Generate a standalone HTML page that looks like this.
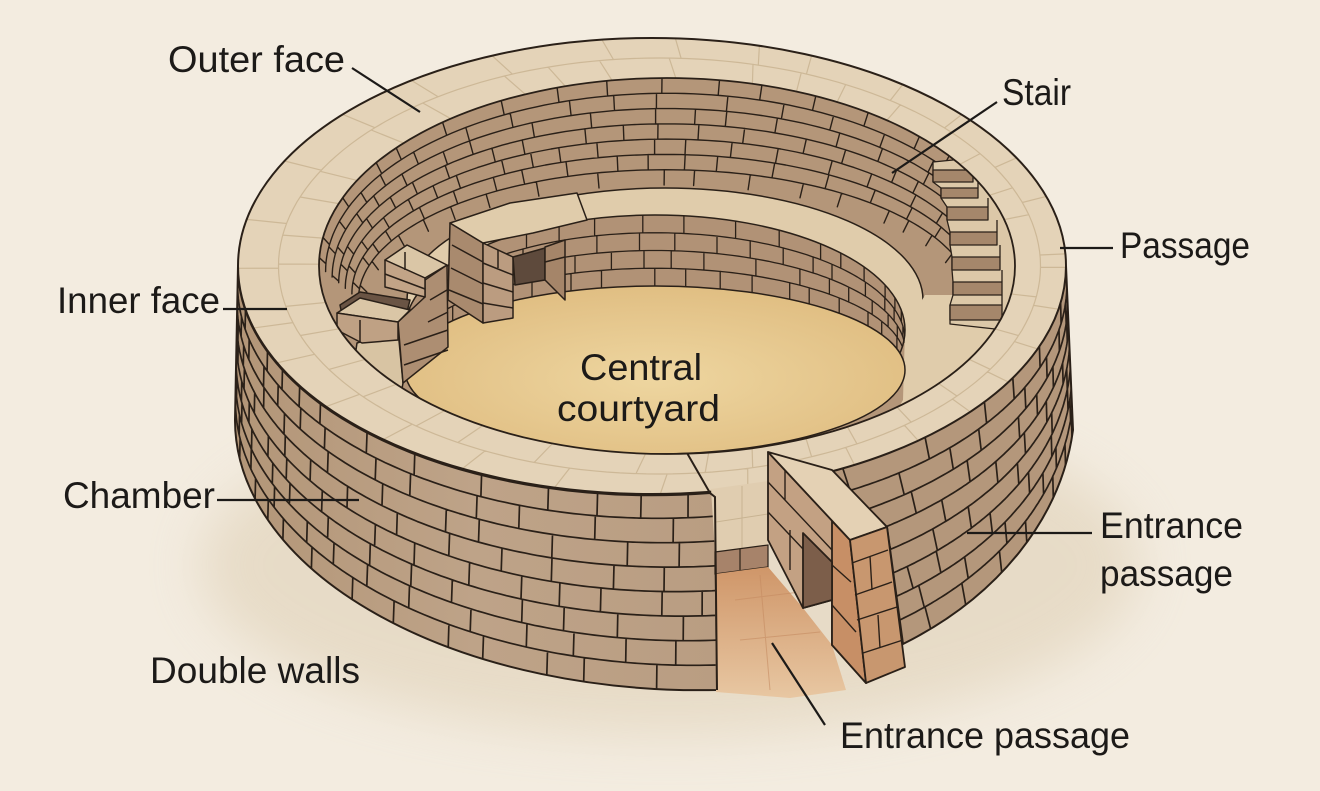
<!DOCTYPE html>
<html><head><meta charset="utf-8"><title>Broch diagram</title>
<style>
html,body{margin:0;padding:0;background:#f3ece0;width:1320px;height:791px;overflow:hidden}
svg{display:block}
text{font-family:"Liberation Sans",Arial,sans-serif;font-size:37px;fill:#1c1a18}
</style></head><body>
<svg id="s" xmlns="http://www.w3.org/2000/svg" width="1320" height="791" viewBox="0 0 1320 791">
<defs>
<filter id="bl" x="-30%" y="-60%" width="160%" height="220%"><feGaussianBlur stdDeviation="26"/></filter>
<radialGradient id="fl" cx="0.5" cy="0.55" r="0.6"><stop offset="0" stop-color="#eed6a0"/><stop offset="1" stop-color="#dfbc80"/></radialGradient>
<linearGradient id="og" x1="0" y1="0" x2="0" y2="1"><stop offset="0" stop-color="#cf9669"/><stop offset="1" stop-color="#e8c7a2"/></linearGradient>
<linearGradient id="lw" x1="0" y1="0" x2="1" y2="0"><stop offset="0" stop-color="#b39678"/><stop offset="0.5" stop-color="#bea388"/><stop offset="1" stop-color="#b99d82"/></linearGradient>
<clipPath id="cL"><path d="M238,266 A414,228 0 0 0 710,493 L715,497 L717,690 A465,270 0 0 1 235,420 Z"/></clipPath>
<clipPath id="cR"><path d="M830,470 A414,228 0 0 0 1066,266 L1073,430 A375,290 0 0 1 903,644 L887,527 Z"/></clipPath>
<clipPath id="cI"><ellipse cx="667" cy="266" rx="348" ry="188"/></clipPath>
<clipPath id="cE4"><ellipse cx="655" cy="330" rx="250" ry="115"/></clipPath>
<clipPath id="cRing"><path clip-rule="evenodd" d="M238,266 A414,228 0 1 0 1066,266 A414,228 0 1 0 238,266 Z M319,266 A348,188 0 1 0 1015,266 A348,188 0 1 0 319,266 Z"/></clipPath>
</defs>

<rect width="1320" height="791" fill="#f3ece0"/>
<ellipse cx="670" cy="565" rx="470" ry="170" fill="#d6c3a2" opacity="0.4" filter="url(#bl)"/>

<!-- left outer wall -->
<path d="M238,266 A414,228 0 0 0 710,493 L715,497 L717,690 A465,270 0 0 1 235,420 Z" fill="url(#lw)"/>
<g id="gL" clip-path="url(#cL)"></g>
<path d="M238,266 A414,228 0 0 0 710,493 L715,497 L717,690 A465,270 0 0 1 235,420 Z" fill="none" stroke="#2a2018" stroke-width="2"/>

<!-- right outer wall -->
<path d="M830,470 A414,228 0 0 0 1066,266 L1073,430 A375,290 0 0 1 903,644 L887,527 Z" fill="#b4977b"/>
<g id="gR" clip-path="url(#cR)"></g>
<path d="M830,470 A414,228 0 0 0 1066,266 L1073,430 A375,290 0 0 1 903,644 L887,527 Z" fill="none" stroke="#2a2018" stroke-width="2"/>

<!-- interior -->
<g clip-path="url(#cI)">
 <rect x="300" y="60" width="740" height="420" fill="#b49679"/>
 <g id="gIn"></g>
 <ellipse cx="665" cy="300" rx="258" ry="112" fill="#e0ccab" stroke="#2a2018" stroke-width="1.5"/>
 <polygon points="905,330 925,295 1030,295 1030,440 880,440 903,400" fill="#e0ccab"/>
 <ellipse cx="655" cy="330" rx="250" ry="115" fill="#b19276" stroke="#2a2018" stroke-width="1.5"/>
 <g id="gE4" clip-path="url(#cE4)"></g>
 <ellipse cx="655" cy="370" rx="250" ry="84" fill="url(#fl)" stroke="#2a2018" stroke-width="1.5"/>

 <!-- chambers -->
 <g stroke="#2a2018" stroke-width="1.5" stroke-linejoin="round">
  <polygon points="340,305 360,292 410,300 405,320 345,330" fill="#6a5444"/>
  <polygon points="357,343 398,330 403,383 400,400 350,390" fill="#d8c4a3"/>
  <polygon points="425,280 447,265 448,347 403,383 398,322 425,297" fill="#ad8e72"/>
  <polygon points="385,260 407,245 447,265 425,278" fill="#dac6a6"/>
  <polygon points="385,260 425,278 425,297 385,287" fill="#c2a487"/>
  <polygon points="337,313 360,298 410,310 398,322" fill="#dac6a6"/>
  <polygon points="337,313 398,322 398,340 362,343 337,330" fill="#bfa184"/>
  <polygon points="450,223 483,243 483,323 448,300" fill="#a98a6e"/>
  <polygon points="450,223 510,203 577,193 587,220 533,233 483,243" fill="#e0ccab"/>
  <polygon points="483,243 513,257 513,318 483,323" fill="#bb9c80"/>
  <polygon points="513,257 545,248 545,280 515,285" fill="#5e4a3c"/>
  <polygon points="545,247 565,240 565,300 545,280" fill="#a58569"/>
  <path fill="none" d="M483,263 L513,275 M483,283 L513,292 M483,303 L513,308 M452,245 L483,262 M451,268 L483,284 M449,290 L483,304 M498,250 L498,268 M385,274 L425,289 M405,252 L405,270 M430,300 L447,290 M428,322 L448,312 M404,345 L448,330 M404,365 L448,350 M545,262 L565,257 M360,320 L360,342"/>
 </g>

 <!-- stairs -->
 <g stroke="#2a2018" stroke-width="1.3" stroke-linejoin="round">
  <polygon points="933,162 973,158 996,168 1016,225 1016,290 1004,330 950,324 950,305 953,295 953,282 952,270 952,257 950,245 950,232 947,220 947,207 941,198 941,188 933,182" fill="#dcc8a8"/>
  <polygon points="933,170 973,170 973,182 933,182" fill="#a5876b"/>
  <polygon points="941,188 978,188 978,198 941,198" fill="#a5876b"/>
  <polygon points="947,207 988,207 988,220 947,220" fill="#a5876b"/>
  <polygon points="950,232 997,232 997,245 950,245" fill="#a5876b"/>
  <polygon points="952,257 1000,257 1000,270 952,270" fill="#a5876b"/>
  <polygon points="953,282 1002,282 1002,295 953,295" fill="#a5876b"/>
  <polygon points="950,305 1002,305 1002,320 950,320" fill="#a5876b"/>
  <path fill="none" d="M973,158 L973,170 M978,182 L978,188 M988,198 L988,207 M997,220 L997,232 M1000,245 L1000,257 M1002,270 L1002,282 M1002,295 L1002,305"/>
 </g>
</g>

<!-- top ring -->
<path fill-rule="evenodd" fill="#e4d3b8" d="M238,266 A414,228 0 1 0 1066,266 A414,228 0 1 0 238,266 Z M319,266 A348,188 0 1 0 1015,266 A348,188 0 1 0 319,266 Z"/>
<g id="gRing" clip-path="url(#cRing)"></g>
<ellipse cx="652" cy="266" rx="414" ry="228" fill="none" stroke="#2a2018" stroke-width="2"/>
<ellipse cx="667" cy="266" rx="348" ry="188" fill="none" stroke="#2a2018" stroke-width="1.8"/>

<!-- entrance gap -->
<polygon points="711,489 768,481 768,545 715,552" fill="#e0cdb0"/>
<path d="M716,522 L768,514 M742,486 L742,548" stroke="#c8b392" stroke-width="1" fill="none"/>
<polygon points="715,552 768,545 768,567 715,574" fill="#a7836a" stroke="#2a2018" stroke-width="1.2"/>
<path d="M740,549 L740,570" stroke="#2a2018" stroke-width="1.2"/>
<polygon points="715,574 768,567 803,608 832,645 846,690 790,698 716,692" fill="url(#og)"/>
<path d="M735,600 L800,592 M740,640 L820,632 M760,575 L770,690" stroke="#c48b60" stroke-width="1" fill="none" opacity="0.6"/>
<path d="M687,453 L710,493 L715,497 L717,690" fill="none" stroke="#2a2018" stroke-width="2"/>

<!-- entrance block -->
<g stroke="#2a2018" stroke-width="1.8" stroke-linejoin="round">
 <polygon points="768,452 850,540 866,683 832,645 832,600 803,608 768,540" fill="#c3a183"/>
 <polygon points="832,521 850,540 866,683 832,645" fill="#c78f66"/>
 <polygon points="803,533 832,562 832,600 803,608" fill="#7c5e4a"/>
 <polygon points="768,452 832,470 887,527 850,540" fill="#e4d1b4"/>
 <polygon points="850,540 887,527 905,667 866,683" fill="#c8976f"/>
 <path fill="none" stroke-width="1.4" d="M768,482 L832,550 M768,512 L803,549 M785,470 L785,500 M790,530 L790,570 M852,563 L888,550 M855,595 L892,582 M857,620 L897,607 M863,653 L903,640 M870,556 L872,590 M878,615 L880,648 M832,565 L851,582 M832,605 L856,632"/>
</g>

<!-- leader lines -->
<g stroke="#1c1a18" stroke-width="2.2" fill="none">
 <path d="M352,68 L420,112"/>
 <path d="M997,102 L892,173"/>
 <path d="M1060,248 L1113,248"/>
 <path d="M223,309 L287,309"/>
 <path d="M217,500 L359,500"/>
 <path d="M967,533 L1092,533"/>
 <path d="M772,643 L825,725"/>
</g>

<!-- labels -->
<text x="168" y="72" textLength="177" lengthAdjust="spacingAndGlyphs">Outer face</text>
<text x="1002" y="105" textLength="69" lengthAdjust="spacingAndGlyphs">Stair</text>
<text x="1120" y="258" textLength="130" lengthAdjust="spacingAndGlyphs">Passage</text>
<text x="57" y="313" textLength="163" lengthAdjust="spacingAndGlyphs">Inner face</text>
<text x="580" y="380" textLength="122" lengthAdjust="spacingAndGlyphs">Central</text>
<text x="557" y="421" textLength="163" lengthAdjust="spacingAndGlyphs">courtyard</text>
<text x="63" y="508" textLength="152" lengthAdjust="spacingAndGlyphs">Chamber</text>
<text x="1100" y="538" textLength="143" lengthAdjust="spacingAndGlyphs">Entrance</text>
<text x="1100" y="586" textLength="133" lengthAdjust="spacingAndGlyphs">passage</text>
<text x="150" y="683" textLength="210" lengthAdjust="spacingAndGlyphs">Double walls</text>
<text x="840" y="748" textLength="290" lengthAdjust="spacingAndGlyphs">Entrance passage</text>
</svg>
<script>
(function(){
var NS='http://www.w3.org/2000/svg';
var seed=12345;function rnd(){seed=(seed*16807)%2147483647;return (seed-1)/2147483646;}
function ell(cx,cy,rx,ry){return function(d){var a=d*Math.PI/180;return [cx+rx*Math.cos(a),cy+ry*Math.sin(a)];};}
function lerp(p,q,s){return [p[0]+(q[0]-p[0])*s,p[1]+(q[1]-p[1])*s];}
function f(p){return p[0].toFixed(1)+','+p[1].toFixed(1);}
function add(id,d,stroke,w,op){var g=document.getElementById(id);var e=document.createElementNS(NS,'path');e.setAttribute('d',d);e.setAttribute('fill','none');e.setAttribute('stroke',stroke);e.setAttribute('stroke-width',w);e.setAttribute('stroke-linecap','round');e.setAttribute('stroke-linejoin','round');if(op)e.setAttribute('opacity',op);g.appendChild(e);}
function bricks(id,T,B,t0,t1,b0,b1,courses,step,w){
 var N=120,d='',k,i;
 function pt(u,s){return lerp(T(t0+(t1-t0)*u),B(b0+(b1-b0)*u),s);}
 for(k=1;k<courses;k++){var s=k/courses;for(i=0;i<=N;i++){d+=(i?'L':'M')+f(pt(i/N,s));}}
 var du=step/Math.abs(t1-t0);
 for(k=0;k<courses;k++){var s0=k/courses,s1=(k+1)/courses,u=rnd()*du;while(u<1){d+='M'+f(pt(u,s0))+'L'+f(pt(u,s1));u+=du*(0.6+0.8*rnd());}}
 add(id,d,'#2a2018',w);
}
var E1=ell(652,266,414,228),E2=ell(667,266,348,188),E3=ell(665,300,258,112),E4=ell(655,330,250,115),FL=ell(655,370,250,84);
bricks('gL',E1,ell(700,420,465,270),180,80,180,87,8,8,1.7);
bricks('gR',E1,ell(700,400,375,290),0,70,5.9,64,8,10,1.7);
bricks('gIn',E2,ell(665,305,300,120),180,360,180,360,7,9,1.4);
bricks('gE4',E4,FL,180,360,180,360,4,9,1.3);
var d='',i;for(i=0;i<=180;i++){d+=(i?'L':'M')+f(lerp(E1(i*2),E2(i*2),0.5));}
for(var r=0;r<2;r++){var th=rnd()*10;while(th<360){d+='M'+f(lerp(E1(th),E2(th),r*0.5))+'L'+f(lerp(E1(th),E2(th),r*0.5+0.5));th+=7+rnd()*9;}}
add('gRing',d,'#c7b18f',1.2,0.8);
})();
</script>
</body></html>
